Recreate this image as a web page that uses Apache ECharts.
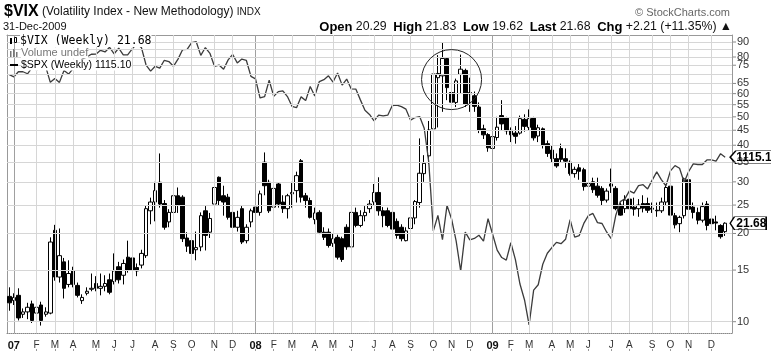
<!DOCTYPE html>
<html>
<head>
<meta charset="utf-8">
<script src="https://cdn.jsdelivr.net/npm/echarts@6/dist/echarts.min.js"></script>
<style>
  html, body { margin: 0; padding: 0; background: #fff; }
  #chart { width: 771px; height: 353px; }
</style>
</head>
<body>
<div id="chart"></div>
<script>
// weekly bars, first one is the week ending 29-Dec-2006
var weeks = [];
(function () {
  var d = Date.UTC(2006, 11, 29);
  for (var i = 0; i < 158; i++) {
    weeks.push(new Date(d + i * 7 * 86400000).toISOString().slice(0, 10));
  }
})();

var vixOpen = [12.2, 11.8, 12.3, 10.6, 10.8, 11.5, 10.7, 11.4, 10.6, 10.7,
  20.5, 14.2, 16.0, 13.4, 14.9, 13.3, 11.8, 12.5, 12.9, 13.5,
  13.0, 13.2, 13.9, 13.7, 15.4, 14.4, 16.6, 16.5, 15.3, 15.6,
  16.8, 23.9, 25.6, 29.9, 25.3, 21.9, 23.6, 26.9, 26.6, 19.3,
  18.9, 17.6, 18.0, 23.9, 20.2, 25.2, 31.1, 26.9, 26.6, 23.6,
  21.0, 24.3, 18.9, 21.9, 24.6, 23.6, 35.0, 29.9, 24.6, 29.5,
  25.6, 24.3, 27.3, 28.0, 35.4, 26.9, 25.9, 22.3, 23.6, 20.2,
  20.2, 18.5, 19.4, 19.2, 21.0, 18.0, 23.6, 21.3, 23.0, 24.3,
  25.6, 27.6, 23.9, 23.9, 23.6, 22.0, 21.0, 18.9, 20.8, 22.6,
  25.5, 32.0, 36.8, 45.5, 68.0, 69.0, 79.0, 60.5, 56.0, 69.8,
  72.0, 60.5, 59.0, 54.0, 45.5, 43.5, 39.0, 42.5, 50.5, 49.7,
  45.0, 44.0, 44.0, 49.0, 46.0, 49.5, 43.0, 45.5, 40.5, 38.5,
  36.0, 39.0, 36.0, 35.0, 32.0, 33.5, 33.0, 29.0, 30.0, 29.0,
  28.5, 26.0, 29.5, 28.5, 25.0, 24.3, 26.2, 24.6, 24.3, 25.3,
  25.3, 24.4, 24.0, 23.9, 25.6, 29.0, 23.0, 21.6, 23.0, 30.5,
  24.6, 23.6, 22.2, 25.2, 22.4, 21.9, 21.3, 20.29];
var vixClose = [11.6, 12.1, 10.3, 10.8, 11.2, 10.1, 11.2, 10.1, 10.8, 18.7,
  14.2, 16.8, 13.0, 14.6, 13.4, 12.3, 12.1, 12.7, 13.0, 13.0,
  13.2, 13.5, 12.6, 14.9, 13.9, 15.8, 15.0, 15.0, 14.9, 17.1,
  24.3, 25.6, 28.0, 25.2, 21.0, 23.6, 26.9, 25.0, 19.2, 18.1,
  17.1, 17.9, 23.0, 19.7, 22.5, 28.7, 25.9, 25.6, 22.7, 21.0,
  22.7, 18.7, 21.0, 23.9, 23.6, 27.3, 29.1, 23.9, 28.5, 25.2,
  24.3, 26.9, 27.6, 31.5, 26.6, 25.9, 22.7, 23.5, 20.2, 19.4,
  18.2, 19.2, 16.6, 16.3, 18.0, 23.6, 21.3, 23.0, 23.6, 25.2,
  27.6, 23.9, 23.0, 21.3, 20.7, 19.7, 19.2, 20.4, 22.6, 25.7,
  32.1, 34.7, 45.1, 70.0, 70.3, 79.1, 62.9, 56.1, 66.3, 72.7,
  55.3, 59.9, 54.3, 44.9, 43.4, 39.2, 42.8, 46.1, 47.3, 44.8,
  43.4, 42.9, 49.3, 46.4, 49.3, 42.4, 45.9, 40.0, 37.5, 36.0,
  34.0, 35.8, 35.3, 32.0, 33.1, 32.6, 28.9, 29.6, 28.2, 27.0,
  25.9, 27.9, 29.0, 24.3, 23.1, 26.0, 24.3, 24.2, 25.0, 24.4,
  24.0, 24.2, 23.9, 25.6, 28.7, 23.1, 21.4, 22.7, 30.7, 24.2,
  23.6, 22.2, 24.7, 21.3, 21.6, 21.7, 19.5, 21.68];
var vixLow = [10.9, 11.4, 10.1, 10.3, 10.2, 9.9, 10.5, 9.7, 10.4, 10.6,
  13.8, 13.6, 12.0, 13.1, 13.1, 12.1, 11.5, 12.3, 12.7, 12.7,
  12.3, 12.7, 12.4, 13.4, 13.5, 13.4, 14.7, 14.6, 14.3, 15.2,
  16.5, 21.5, 22.0, 24.5, 20.6, 21.0, 22.0, 23.5, 18.7, 17.3,
  16.4, 16.2, 17.4, 17.5, 19.3, 23.5, 25.0, 23.0, 22.3, 20.5,
  20.3, 18.4, 18.5, 21.0, 22.5, 23.0, 27.0, 23.5, 23.0, 24.5,
  23.5, 22.5, 24.5, 25.5, 25.5, 24.5, 22.5, 21.5, 19.9, 19.0,
  17.9, 18.0, 16.3, 16.0, 17.6, 17.5, 21.0, 21.0, 22.0, 23.5,
  25.0, 23.0, 21.0, 21.0, 20.3, 19.2, 18.8, 18.8, 20.3, 21.5,
  24.5, 30.0, 34.5, 44.0, 46.0, 52.0, 57.0, 47.0, 54.0, 60.0,
  54.0, 52.0, 52.0, 44.0, 42.0, 38.0, 37.5, 41.5, 45.0, 43.5,
  41.0, 40.5, 43.5, 44.5, 45.0, 41.5, 41.0, 39.0, 36.5, 35.0,
  33.5, 35.0, 33.5, 31.5, 31.0, 30.5, 28.0, 28.0, 27.5, 26.5,
  25.0, 25.5, 27.5, 24.0, 23.0, 23.5, 23.8, 23.0, 22.8, 23.6,
  23.5, 23.5, 22.8, 23.5, 25.0, 22.0, 20.8, 20.2, 22.5, 24.0,
  22.5, 21.5, 21.8, 20.5, 20.5, 20.5, 19.2, 19.62];
var vixHigh = [13.1, 12.5, 13.0, 11.1, 11.6, 11.8, 11.5, 11.7, 11.2, 19.4,
  21.4, 20.8, 16.5, 16.2, 15.4, 13.6, 12.4, 13.1, 14.6, 14.3,
  14.6, 14.4, 14.6, 17.1, 16.0, 16.3, 18.9, 17.0, 15.8, 17.6,
  25.0, 26.5, 30.0, 37.5, 26.0, 24.2, 29.0, 28.7, 27.0, 20.2,
  19.5, 20.3, 23.6, 24.8, 23.5, 29.5, 31.3, 29.1, 27.3, 24.0,
  23.9, 24.8, 21.5, 24.3, 26.0, 28.0, 37.8, 30.5, 29.5, 29.9,
  27.0, 27.3, 30.0, 32.5, 35.9, 27.5, 26.5, 24.5, 24.0, 21.0,
  20.8, 20.0, 19.8, 19.5, 21.5, 24.0, 24.5, 24.0, 24.8, 26.0,
  29.5, 31.1, 24.6, 24.5, 24.0, 22.5, 21.5, 21.0, 24.6, 26.0,
  42.2, 37.0, 48.4, 76.9, 81.2, 89.5, 80.0, 64.0, 67.5, 81.5,
  73.0, 68.0, 61.0, 56.0, 47.0, 44.0, 44.0, 50.0, 57.0, 50.0,
  46.0, 46.5, 50.5, 51.0, 53.0, 50.0, 47.0, 46.0, 41.5, 40.0,
  37.5, 40.5, 39.0, 35.5, 33.8, 34.5, 33.5, 31.0, 31.0, 31.0,
  29.0, 28.5, 33.3, 29.0, 25.5, 27.0, 27.0, 26.5, 26.2, 27.0,
  26.5, 25.5, 25.5, 26.5, 29.5, 29.5, 23.5, 23.0, 31.0, 31.0,
  25.5, 24.5, 25.5, 25.8, 23.5, 23.0, 21.5, 21.83];

var spxClose = [1418.3, 1409.7, 1430.7, 1430.5, 1422.2, 1448.4, 1438.1, 1455.5, 1451.2, 1387.2,
  1402.8, 1386.9, 1436.1, 1420.9, 1443.8, 1452.9, 1484.4, 1494.1, 1505.6, 1505.9,
  1522.8, 1515.7, 1536.3, 1507.7, 1532.9, 1502.6, 1503.4, 1530.4, 1552.5, 1534.1,
  1458.9, 1433.1, 1453.6, 1445.9, 1479.4, 1474.0, 1453.6, 1484.3, 1525.8, 1526.8,
  1557.6, 1561.8, 1500.6, 1535.3, 1509.7, 1453.7, 1458.7, 1440.7, 1481.1, 1504.7,
  1468.0, 1484.5, 1478.5, 1411.6, 1401.0, 1325.2, 1330.6, 1395.4, 1331.3, 1350.0,
  1353.1, 1330.6, 1293.4, 1288.1, 1329.5, 1315.2, 1370.4, 1332.8, 1390.3, 1397.8,
  1413.9, 1388.3, 1425.4, 1375.9, 1400.4, 1360.7, 1360.0, 1317.9, 1278.4, 1262.9,
  1239.5, 1260.7, 1257.8, 1260.3, 1296.3, 1298.2, 1292.2, 1282.8, 1242.3, 1251.7,
  1255.1, 1213.3, 1099.2, 899.2, 940.6, 876.8, 968.8, 931.0, 873.3, 800.0,
  896.2, 876.1, 879.7, 887.9, 872.8, 931.8, 890.4, 850.1, 832.0, 825.9,
  868.6, 826.8, 770.1, 735.1, 683.4, 756.6, 768.5, 815.9, 842.5, 856.6,
  869.6, 866.2, 877.5, 929.2, 882.9, 887.0, 919.1, 940.1, 946.2, 921.2,
  918.9, 896.4, 879.1, 940.4, 979.3, 987.5, 1010.5, 1004.1, 1026.1, 1028.9,
  1016.4, 1042.7, 1068.3, 1044.4, 1025.2, 1071.5, 1087.7, 1079.6, 1036.2, 1069.3,
  1093.5, 1091.4, 1091.5, 1106.0, 1106.4, 1102.5, 1126.5, 1115.1];

var gridValues = [10, 15, 20, 25, 30, 35, 40, 45, 50, 55, 60, 65, 70, 75, 80, 85, 90];
var labelValues = [10, 15, 20, 25, 30, 35, 40, 45, 50, 55, 60, 65, 75, 80, 90];
var monthLetters = ['J', 'F', 'M', 'A', 'M', 'J', 'J', 'A', 'S', 'O', 'N', 'D'];

var categories = weeks.concat(['']);   // one empty slot on the right
var last = weeks.length - 1;

// a month gets its gridline on the first week whose Monday is in it
var monthIdx = [];
weeks.forEach(function (w, i) {
  var day = +w.slice(8, 10);
  if (day >= 5 && day <= 11) monthIdx.push(i);
});
function isMonth(i) { return monthIdx.indexOf(i) >= 0; }

var candles = vixOpen.map(function (o, i) {
  return [o, vixClose[i], vixLow[i], vixHigh[i]];
});

var vLines = monthIdx.map(function (i) {
  var jan = weeks[i].slice(5, 7) === '01';
  return { xAxis: weeks[i], label: { show: false }, lineStyle: { color: jan ? '#a0a0a0' : '#d6d6d6' } };
});
var hLines = gridValues.map(function (v) {
  return { yAxis: v, label: { show: labelValues.indexOf(v) >= 0 } };
});

var box = 'path://M0,6.5L5,0L42,0L42,13L5,13Z';
var frame = { show: true, lineStyle: { color: '#999', width: 1 } };

var chart = echarts.init(document.getElementById('chart'));
chart.setOption({
  animation: false,
  grid: { left: 7, right: 39, top: 35, bottom: 20 },
  xAxis: [
    {
      type: 'category',
      data: categories,
      boundaryGap: true,
      axisLine: { show: true, lineStyle: { color: '#888', type: 'dotted' } },
      axisTick: { show: false },
      splitLine: { show: false },
      axisLabel: {
        interval: function (i) { return isMonth(i); },
        margin: 7,
        color: '#333',
        fontFamily: 'Liberation Sans',
        fontSize: 10,
        formatter: function (v) {
          var m = +v.slice(5, 7) - 1;
          if (m === 0) return '{y|' + v.slice(2, 4) + '}';
          return monthLetters[m];
        },
        rich: { y: { fontWeight: 'bold', fontSize: 11, color: '#111', fontFamily: 'Liberation Sans' } }
      }
    },
    // top frame
    { type: 'category', data: categories, position: 'top', axisLine: frame, axisTick: { show: false }, axisLabel: { show: false } },
    // little marks under the month letters
    {
      type: 'category', data: categories, position: 'bottom', offset: 16,
      axisLine: { show: false }, axisLabel: { show: false },
      axisTick: { show: true, alignWithLabel: true, interval: function (i) { return isMonth(i); }, length: 2, lineStyle: { color: '#999' } }
    }
  ],
  yAxis: [
    {
      type: 'log', position: 'right', min: 9.15, max: 95.1,
      axisLine: frame,
      axisTick: { show: false }, axisLabel: { show: false }, splitLine: { show: false }
    },
    { type: 'log', min: 667.6, max: 1592.5, show: false },
    // left frame
    { type: 'value', position: 'left', axisLine: frame, axisTick: { show: false }, axisLabel: { show: false }, splitLine: { show: false } }
  ],
  series: [
    {
      name: 'grid',
      type: 'line',
      data: [],
      z: 1,
      silent: true,
      markLine: {
        silent: true,
        symbol: ['none', 'none'],
        animation: false,
        lineStyle: { color: '#d6d6d6', width: 1, type: 'solid' },
        label: {
          position: 'end',
          distance: 1,
          color: '#333',
          fontFamily: 'Liberation Sans',
          fontSize: 11,
          formatter: function (p) { return '{t|}{v|' + p.value + '}'; },
          rich: {
            t: { width: 3, height: 1, backgroundColor: '#888' },
            v: { fontSize: 11, color: '#333', fontFamily: 'Liberation Sans', padding: [0, 0, 0, 1] }
          }
        },
        data: vLines.concat(hLines)
      }
    },
    {
      name: '$VIX',
      type: 'candlestick',
      data: candles,
      barWidth: 4,
      z: 3,
      itemStyle: { color: '#fff', color0: '#000', borderColor: '#000', borderColor0: '#000', borderWidth: 1 },
      markPoint: {
        silent: true,
        data: [{ coord: [weeks[last], 21.68], value: 21.68 }],
        symbol: box,
        symbolSize: [36, 13],
        symbolOffset: [23, 0],
        itemStyle: { color: '#fff', borderColor: '#000', borderWidth: 1 },
        label: {
          show: true, position: [7, 1], color: '#000',
          fontFamily: 'Liberation Sans', fontWeight: 'bold', fontSize: 12,
          formatter: '21.68'
        }
      }
    },
    {
      name: '$SPX',
      type: 'line',
      yAxisIndex: 1,
      data: spxClose,
      showSymbol: false,
      z: 4,
      lineStyle: { color: '#3c3c3c', width: 1.3 },
      markPoint: {
        silent: true,
        data: [{ coord: [weeks[last], 1115.1], value: 1115.1 }],
        symbol: box,
        symbolSize: [48, 13],
        symbolOffset: [29, 0],
        itemStyle: { color: '#fff', borderColor: '#000', borderWidth: 1 },
        label: {
          show: true, position: [7, 1], color: '#000',
          fontFamily: 'Liberation Sans', fontWeight: 'bold', fontSize: 12,
          formatter: '1115.10'
        }
      }
    }
  ],
  graphic: [
    {
      id: 'title', type: 'text', x: 4, y: 12, z: 10,
      style: {
        text: '{a|$VIX} {b|(Volatility Index - New Methodology)} {c|INDX}',
        verticalAlign: 'middle',
        rich: {
          a: { fontSize: 16, fontWeight: 'bold', fontFamily: 'Liberation Sans', fill: '#000' },
          b: { fontSize: 12, fontFamily: 'Liberation Sans', fill: '#111' },
          c: { fontSize: 10, fontFamily: 'Liberation Sans', fill: '#111' }
        }
      }
    },
    {
      id: 'date', type: 'text', x: 3, y: 27, z: 10,
      style: { text: '31-Dec-2009', verticalAlign: 'middle', fontSize: 11, fontFamily: 'Liberation Sans', fill: '#111' }
    },
    {
      id: 'copy', type: 'text', x: 730, y: 13, z: 10,
      style: { text: '\u00a9 StockCharts.com', align: 'right', verticalAlign: 'middle', fontSize: 11, fontFamily: 'Liberation Sans', fill: '#666' }
    },
    {
      id: 'quote', type: 'text', x: 732, y: 27, z: 10,
      style: {
        text: '{k|Open} {v|20.29}  {k|High} {v|21.83}  {k|Low} {v|19.62}  {k|Last} {v|21.68}  {k|Chg} {v|+2.21 (+11.35%)} {v|\u25b2}',
        align: 'right', verticalAlign: 'middle',
        rich: {
          k: { fontSize: 13, fontWeight: 'bold', fontFamily: 'Liberation Sans', fill: '#000' },
          v: { fontSize: 12.3, fontFamily: 'Liberation Sans', fill: '#111' }
        }
      }
    },
    // legend inside the plot
    { id: 'ic1', type: 'rect', z: 10, shape: { x: 10, y: 38, width: 2, height: 6 }, style: { fill: '#000' } },
    { id: 'ic2', type: 'rect', z: 10, shape: { x: 14.5, y: 37.5, width: 2, height: 5 }, style: { fill: '#fff', stroke: '#000', lineWidth: 1 } },
    {
      id: 'lg1', type: 'text', x: 20, y: 41, z: 10,
      style: { text: '$VIX (Weekly) 21.68', verticalAlign: 'middle', fontSize: 11.5, fontFamily: 'DejaVu Sans Mono', fill: '#000', backgroundColor: '#fff' }
    },
    { id: 'ic3', type: 'rect', z: 10, shape: { x: 10, y: 51, width: 1.5, height: 6 }, style: { fill: '#777' } },
    { id: 'ic4', type: 'rect', z: 10, shape: { x: 13, y: 49, width: 1.5, height: 8 }, style: { fill: '#777' } },
    { id: 'ic5', type: 'rect', z: 10, shape: { x: 16, y: 52, width: 1.5, height: 5 }, style: { fill: '#777' } },
    {
      id: 'lg2', type: 'text', x: 21, y: 53, z: 10,
      style: { text: 'Volume undef', verticalAlign: 'middle', fontSize: 11, fontFamily: 'Liberation Sans', fill: '#777', backgroundColor: '#fff' }
    },
    { id: 'ic6', type: 'rect', z: 10, shape: { x: 10, y: 64, width: 8, height: 2 }, style: { fill: '#000' } },
    {
      id: 'lg3', type: 'text', x: 21, y: 65, z: 10,
      style: { text: '$SPX (Weekly) 1115.10', verticalAlign: 'middle', fontSize: 10.5, fontFamily: 'Liberation Sans', fill: '#000', backgroundColor: '#fff' }
    }
  ]
});

// annotation ring round the Oct-Nov 2008 spike
var c = chart.convertToPixel({ xAxisIndex: 0, yAxisIndex: 0 }, [97, 67]);
chart.setOption({
  graphic: [{
    id: 'ring', type: 'circle', z: 9, silent: true,
    shape: { cx: c[0], cy: c[1], r: 30 },
    style: { fill: 'none', stroke: '#222', lineWidth: 1 }
  }]
});
</script>
</body>
</html>
